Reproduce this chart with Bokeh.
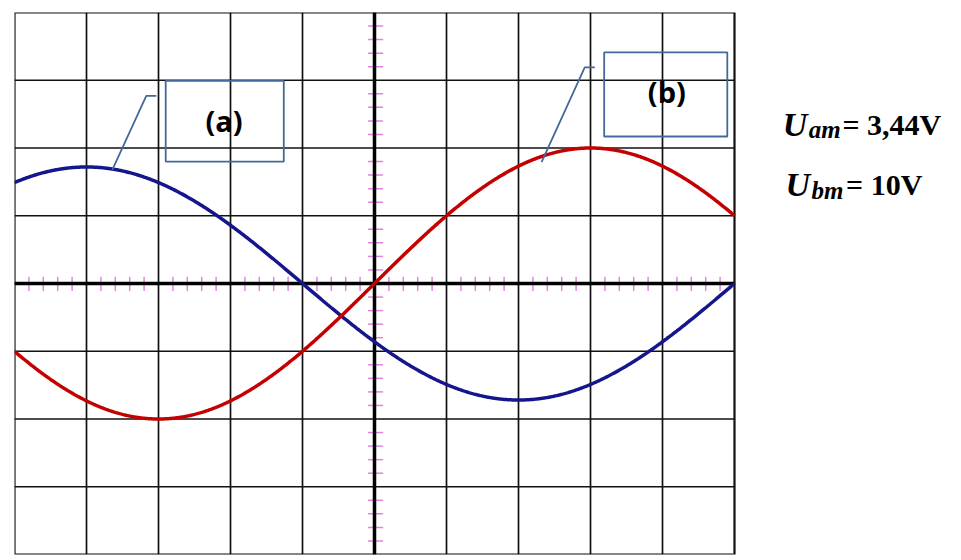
import numpy as np
from bokeh.plotting import figure
from bokeh.models import Label
from bokeh.embed import file_html
from bokeh.resources import INLINE

# --- data ---
# screen: 10 x 8 divisions; signals are sinusoids
period_div = 12.0            # period in horizontal divisions
amp_a_div = 1.72             # U_am = 3.44 V at 2 V/div
amp_b_div = 2.0              # U_bm = 10 V at 5 V/div
phase_a_div = 1.0            # (a) shifted one division relative to (b)
labels_text = ["(a)", "(b)"]
u_values = ["= 3,44V", "= 10V"]
u_subs = ["am", "bm"]
x_lines = list(range(-4, 5))
y_lines = list(range(-3, 4))

x_div = np.linspace(-5, 5, 801)
y_a = -amp_a_div * np.sin(2 * np.pi * (x_div + phase_a_div) / period_div)
y_b = amp_b_div * np.sin(2 * np.pi * x_div / period_div)

FRAME_W = 936
p = figure(width=14 + FRAME_W, height=556, x_range=(-5, -5 + FRAME_W / 72.0), y_range=(-4, 4),
           output_backend="svg", toolbar_location=None,
           x_axis_location=None, y_axis_location=None,
           min_border_left=14, min_border_right=0,
           min_border_top=12, min_border_bottom=2)
p.background_fill_color = "white"
p.border_fill_color = "white"
p.outline_line_color = None
p.grid.visible = False

# graticule
p.segment(x0=x_lines, y0=[-4] * len(x_lines), x1=x_lines, y1=[4] * len(x_lines),
          line_color="#111111", line_width=1.7)
p.segment(x0=[-5] * len(y_lines), y0=y_lines, x1=[5] * len(y_lines), y1=y_lines,
          line_color="#111111", line_width=1.7)
p.quad(left=[-5], right=[5], bottom=[-4], top=[4], fill_color=None,
       line_color="#111111", line_width=2.2)

# minor graduations on the central axes
hx = np.array([v for v in np.arange(-5, 5.001, 0.2) if abs(v - round(v)) > 1e-6])
vy = np.array([v for v in np.arange(-4, 4.001, 0.2) if abs(v - round(v)) > 1e-6])
tick_col = "#e285e2"
p.segment(x0=hx, y0=np.full(len(hx), -0.11), x1=hx, y1=np.full(len(hx), 0.1),
          line_color=tick_col, line_width=1.5)
p.segment(x0=np.full(len(vy), -0.09), y0=vy, x1=np.full(len(vy), 0.12), y1=vy,
          line_color=tick_col, line_width=1.5)

# central axes
p.segment(x0=[-5, 0], y0=[0, -4], x1=[5, 0], y1=[0, 4], line_color="black", line_width=3.5)

p.line(x_div, y_a, line_color="#16168c", line_width=3.5)
p.line(x_div, y_b, line_color="#c40000", line_width=3.5)

# callouts
box_col = "#44689b"
p.quad(left=[-2.90, 3.19], right=[-1.26, 4.90], bottom=[1.80, 2.17], top=[2.99, 3.41],
       fill_color=None, line_color=box_col, line_width=1.8)
p.line([-3.64, -3.17, -3.03], [1.68, 2.77, 2.77], line_color=box_col, line_width=1.8)
p.line([2.32, 2.92, 3.06], [1.79, 3.19, 3.19], line_color=box_col, line_width=1.8)

p.add_layout(Label(x=-2.09, y=2.41, text=labels_text[0], text_font="Open Sans",
                   text_font_style="bold", text_font_size="29px",
                   text_align="center", text_baseline="middle", text_color="black"))
p.add_layout(Label(x=4.06, y=2.84, text=labels_text[1], text_font="Open Sans",
                   text_font_style="bold", text_font_size="29px",
                   text_align="center", text_baseline="middle", text_color="black"))

# amplitude annotations: (x of U, baseline, x of subscript, subscript baseline, x of value)
rows = [(5.67, 2.35, 6.03, 2.27, 6.50), (5.71, 1.46, 6.07, 1.37, 6.55)]
for (xu, yb, xs, ys, xv), sub, val in zip(rows, u_subs, u_values):
    p.add_layout(Label(x=xu, y=yb, text="U", text_font="Liberation Serif",
                       text_font_style="bold italic", text_font_size="34px",
                       text_baseline="alphabetic", text_color="black"))
    p.add_layout(Label(x=xs, y=ys, text=sub, text_font="Liberation Serif",
                       text_font_style="bold italic", text_font_size="25px",
                       text_baseline="alphabetic", text_color="black"))
    p.add_layout(Label(x=xv, y=yb, text=val, text_font="Liberation Serif",
                       text_font_style="bold", text_font_size="30px",
                       text_baseline="alphabetic", text_color="black"))

open("out.html", "w").write(file_html(p, INLINE))
